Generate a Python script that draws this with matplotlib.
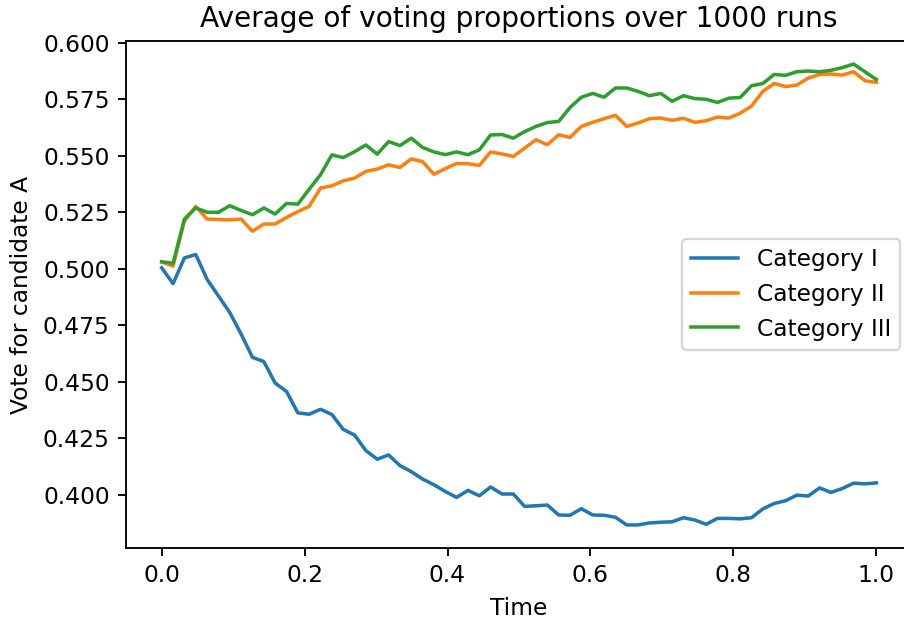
import numpy as np
import matplotlib
matplotlib.use("Agg")
import matplotlib.pyplot as plt

# values (64 time steps from 0 to 1)
time = np.linspace(0, 1, 64)

cat_1 = [0.5004, 0.4934, 0.5048, 0.5063, 0.4953, 0.4880, 0.4806, 0.4711, 0.4608, 0.4589,
         0.4494, 0.4457, 0.4362, 0.4356, 0.4378, 0.4355, 0.4289, 0.4264, 0.4195, 0.4157,
         0.4176, 0.4129, 0.4102, 0.4069, 0.4044, 0.4014, 0.3988, 0.4019, 0.3995, 0.4034,
         0.4003, 0.4003, 0.3948, 0.3951, 0.3954, 0.3910, 0.3909, 0.3938, 0.3910, 0.3909,
         0.3900, 0.3866, 0.3866, 0.3875, 0.3878, 0.3880, 0.3898, 0.3888, 0.3869, 0.3895,
         0.3895, 0.3893, 0.3898, 0.3937, 0.3961, 0.3973, 0.3998, 0.3994, 0.4030, 0.4010,
         0.4027, 0.4051, 0.4048, 0.4052]

cat_2 = [0.5030, 0.5012, 0.5212, 0.5276, 0.5220, 0.5218, 0.5216, 0.5220, 0.5166, 0.5198,
         0.5198, 0.5227, 0.5253, 0.5276, 0.5357, 0.5367, 0.5389, 0.5401, 0.5431, 0.5441,
         0.5460, 0.5448, 0.5486, 0.5474, 0.5418, 0.5443, 0.5466, 0.5465, 0.5457, 0.5517,
         0.5508, 0.5497, 0.5534, 0.5571, 0.5549, 0.5593, 0.5581, 0.5630, 0.5648, 0.5664,
         0.5679, 0.5630, 0.5645, 0.5664, 0.5667, 0.5657, 0.5666, 0.5648, 0.5655, 0.5671,
         0.5667, 0.5688, 0.5720, 0.5785, 0.5820, 0.5806, 0.5813, 0.5844, 0.5860, 0.5862,
         0.5857, 0.5872, 0.5832, 0.5825]

cat_3 = [0.5031, 0.5024, 0.5220, 0.5269, 0.5250, 0.5250, 0.5279, 0.5258, 0.5239, 0.5269,
         0.5242, 0.5289, 0.5286, 0.5352, 0.5416, 0.5504, 0.5492, 0.5518, 0.5548, 0.5507,
         0.5563, 0.5545, 0.5578, 0.5537, 0.5517, 0.5505, 0.5517, 0.5505, 0.5526, 0.5592,
         0.5594, 0.5578, 0.5607, 0.5630, 0.5647, 0.5652, 0.5714, 0.5759, 0.5776, 0.5759,
         0.5800, 0.5800, 0.5785, 0.5766, 0.5776, 0.5741, 0.5766, 0.5753, 0.5750, 0.5736,
         0.5755, 0.5758, 0.5810, 0.5820, 0.5860, 0.5856, 0.5872, 0.5875, 0.5872, 0.5878,
         0.5890, 0.5906, 0.5872, 0.5838]

labels = ["Category I", "Category II", "Category III"]

W, H, DPI = 904, 619, 168
fig = plt.figure(figsize=(W / DPI, H / DPI), dpi=DPI)
# axes runs a little past the right edge, like the cropped original
ax = fig.add_axes([126 / W, 71 / H, 786 / W, 507 / H])

for y, lab in zip([cat_1, cat_2, cat_3], labels):
    ax.plot(time, y, label=lab)

ax.set_title("Average of voting proportions over 1000 runs")
ax.set_xlabel("Time")
ax.set_ylabel("Vote for candidate A")
ax.legend(loc="center right")

fig.savefig("out.png", dpi=DPI)
